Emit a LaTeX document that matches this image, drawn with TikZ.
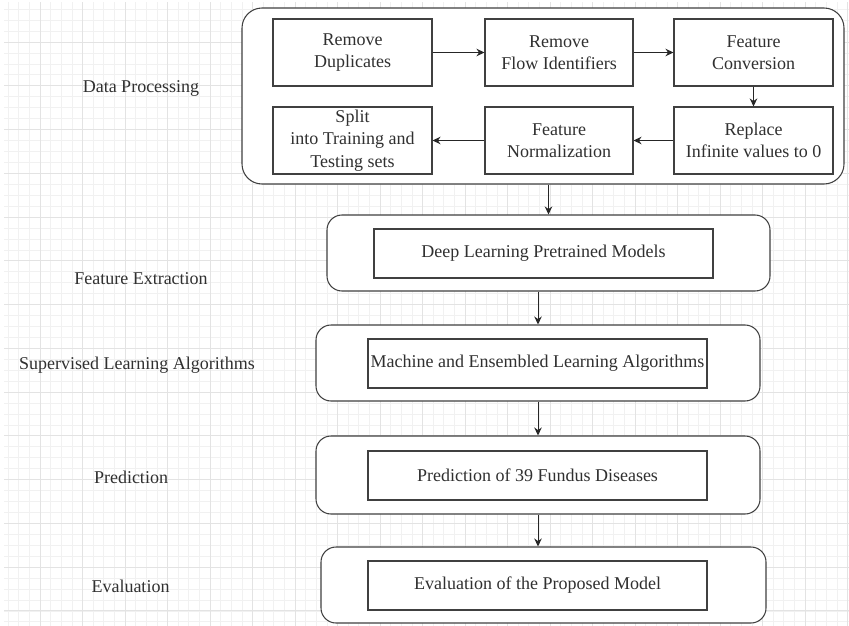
\documentclass[tikz,border=0pt]{standalone}
\usepackage{fontspec}
\setmainfont{Liberation Serif}
\usetikzlibrary{arrows.meta}
\definecolor{gminor}{HTML}{F1F1F1}
\definecolor{gmajor}{HTML}{E3E3E3}
\definecolor{ink}{HTML}{404040}
\definecolor{txt}{HTML}{303030}
\tikzset{
  stagebox/.style={draw=ink, line width=1.05pt, fill=white, rounded corners=15pt, inner sep=0pt},
  outerbox/.style={draw=ink, line width=1.05pt, fill=white, rounded corners=20pt, inner sep=0pt},
  innerbox/.style={draw=ink, line width=1.05pt, fill=white, inner sep=0pt, align=center, text=txt,
    font=\fontsize{18}{22.5}\selectfont},
  lbl/.style={text=txt, font=\fontsize{18}{22.5}\selectfont, inner sep=0pt},
  arr/.style={draw=black!85, line width=1pt, -{Stealth[length=8pt,width=7.5pt]}},
  gridminor/.style={draw=gminor, line width=0.7pt},
  gridmajor/.style={draw=gmajor, line width=0.9pt}
}
\begin{document}
\begin{tikzpicture}[x=1pt,y=-1pt]
\useasboundingbox (0,0) rectangle (849,626);
\fill[white] (0,0) rectangle (849,626);
% grid
\begin{scope}
\clip (4,3) rectangle (849,626);
\foreach \k in {-4,...,76} {
  \pgfmathsetmacro\xx{40+\k*10.625}
  \draw[gridminor] (\xx,0) -- (\xx,626);
}
\foreach \k in {-4,...,54} {
  \pgfmathsetmacro\yy{42+\k*10.94}
  \draw[gridminor] (0,\yy) -- (849,\yy);
}
\foreach \k in {-1,...,19} {
  \pgfmathsetmacro\xx{40+\k*42.5}
  \draw[gridmajor] (\xx,0) -- (\xx,626);
}
\foreach \k in {-1,...,14} {
  \pgfmathsetmacro\yy{42+\k*43.75}
  \draw[gridmajor] (0,\yy) -- (849,\yy);
}
\end{scope}

% left labels
\node[lbl] (ldp) at (141,88) {Data Processing};
\node[lbl] (lfe) at (141,279) {Feature Extraction};
\node[lbl] (lsl) at (137,365) {Supervised Learning Algorithms};
\node[lbl] (lpr) at (131,477) {Prediction};
\node[lbl] (lev) at (130.5,586) {Evaluation};

% outer stage boxes
\node[outerbox, minimum width=602pt, minimum height=176pt] (dp) at (543,96) {};
\node[stagebox, minimum width=443pt, minimum height=76pt] (fe) at (548.5,253) {};
\node[stagebox, minimum width=444pt, minimum height=76pt] (sl) at (538,363) {};
\node[stagebox, minimum width=444pt, minimum height=78pt] (pr) at (538,475) {};
\node[stagebox, minimum width=445pt, minimum height=76pt] (ev) at (543.5,585) {};

% data processing steps
\node[innerbox, minimum width=159pt, minimum height=67pt] (rd) at (352.5,52.5) {Remove\\Duplicates};
\node[innerbox, minimum width=148pt, minimum height=67pt] (rf) at (559,52.5) {Remove\\Flow Identifiers};
\node[innerbox, minimum width=159pt, minimum height=67pt] (fc) at (753.5,52.5) {Feature\\Conversion};
\node[innerbox, minimum width=159pt, minimum height=67pt] (rp) at (753.5,140.5) {Replace\\Infinite values to 0};
\node[innerbox, minimum width=148pt, minimum height=67pt] (fn) at (559,140.5) {Feature\\Normalization};
\node[innerbox, minimum width=159pt, minimum height=67pt] (sp) at (352.5,140.5) {Split\\into Training and\\Testing sets};

% inner boxes of stages
\node[innerbox, minimum width=339pt, minimum height=49pt] (fei) at (543.5,253.5) {Deep Learning Pretrained Models};
\node[innerbox, minimum width=339pt, minimum height=49pt] (sli) at (537.5,363.5) {Machine and Ensembled Learning Algorithms};
\node[innerbox, minimum width=339pt, minimum height=49pt] (pri) at (537.5,475.5) {Prediction of 39 Fundus Diseases};
\node[innerbox, minimum width=339pt, minimum height=49pt] (evi) at (537.5,585.5) {Evaluation of the Proposed Model};

% arrows inside data processing
\draw[arr] (rd) -- (rf);
\draw[arr] (rf) -- (fc);
\draw[arr] (fc) -- (rp);
\draw[arr] (rp) -- (fn);
\draw[arr] (fn) -- (sp);

% arrows between stages
\draw[arr] (fe.north |- dp.south) -- (fe.north);
\draw[arr] (sl.north |- fe.south) -- (sl.north);
\draw[arr] (pr.north |- sl.south) -- (pr.north);
\draw[arr] (pr.south) -- (pr.south |- ev.north);
\end{tikzpicture}
\end{document}
